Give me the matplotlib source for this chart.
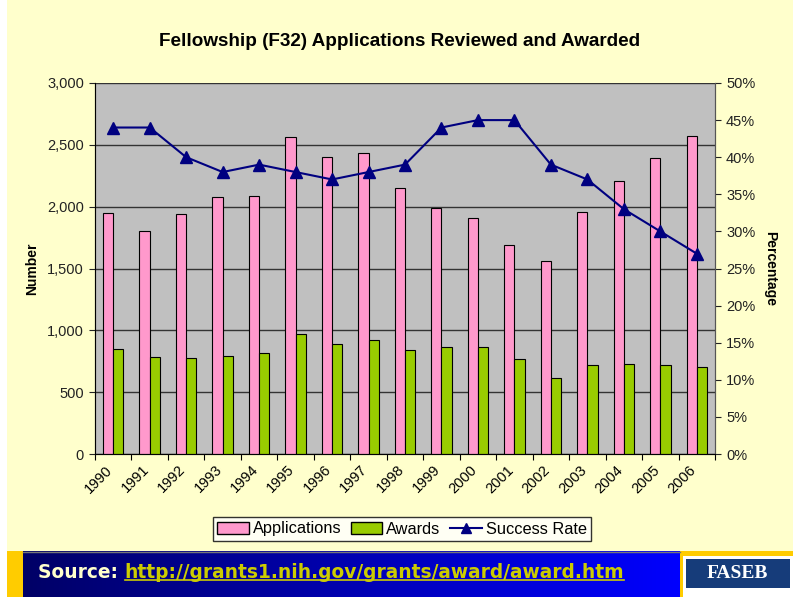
import numpy as np
import matplotlib.pyplot as plt
from matplotlib.lines import Line2D
from matplotlib.patches import Patch, Rectangle
from matplotlib.ticker import FuncFormatter, MultipleLocator
from matplotlib.colors import LinearSegmentedColormap

# Data
years = ['1990', '1991', '1992', '1993', '1994', '1995', '1996', '1997', '1998',
         '1999', '2000', '2001', '2002', '2003', '2004', '2005', '2006']
applications = [1950, 1800, 1940, 2080, 2090, 2560, 2400, 2430, 2150,
                1990, 1910, 1690, 1560, 1960, 2210, 2390, 2570]
awards = [850, 785, 775, 795, 820, 972, 890, 922, 843,
          868, 868, 770, 615, 722, 730, 722, 705]
success_rate = [44, 44, 40, 38, 39, 38, 37, 38, 39,
                44, 45, 45, 39, 37, 33, 30, 27]

BG = '#FFFFCC'
PINK = '#FF99CC'
GREEN = '#99CC00'
NAVY = '#000080'

W, H = 793, 597
fig = plt.figure(figsize=(W / 100, H / 100), dpi=100, facecolor=BG)
plt.rcParams['font.family'] = ['Liberation Sans', 'DejaVu Sans']

# white strip on the left edge of the slide
fig.patches.append(Rectangle((0, 0), 7 / W, 1, transform=fig.transFigure,
                             facecolor='white', edgecolor='none', zorder=0))

# Main chart
ax = fig.add_axes([95 / W, 143 / H, 620 / W, 371 / H])
ax.set_facecolor('#C0C0C0')
x = np.arange(len(years)) + 0.5
bw = 0.28
ax.bar(x - bw / 2, applications, bw, color=PINK, edgecolor='black', linewidth=0.8, zorder=3)
ax.bar(x + bw / 2, awards, bw, color=GREEN, edgecolor='black', linewidth=0.8, zorder=3)
ax.set_xlim(0, len(years))
ax.set_ylim(0, 3000)
ax.yaxis.set_major_locator(MultipleLocator(500))
ax.yaxis.set_major_formatter(FuncFormatter(lambda v, p: f'{int(v):,}'))
ax.grid(axis='y', color='#333333', linewidth=1, zorder=1)
ax.set_axisbelow(True)
ax.set_xticks(np.arange(len(years) + 1))
ax.set_xticklabels([])
ax.tick_params(axis='x', length=4, color='black', direction='out')
ax.tick_params(axis='y', length=4, labelsize=10.5, colors='#222222', pad=4)
for i, yr in enumerate(years):
    ax.text(x[i] - 0.22, -70, yr, rotation=45, ha='right', va='top',
            rotation_mode='anchor', fontsize=10.5, transform=ax.transData, clip_on=False)
ax.spines['top'].set_visible(False)
for s in ['left', 'right', 'bottom']:
    ax.spines[s].set_color('#555555')
ax.set_ylabel('Number', fontsize=10, fontweight='bold', labelpad=6)

ax2 = ax.twinx()
ax2.plot(x, success_rate, color=NAVY, linewidth=1.5, marker='^', markersize=8, zorder=5)
ax2.set_ylim(0, 50)
ax2.yaxis.set_major_locator(MultipleLocator(5))
ax2.yaxis.set_major_formatter(FuncFormatter(lambda v, p: f'{int(v)}%'))
ax2.tick_params(axis='y', length=4, labelsize=10.5, colors='#222222', pad=4)
ax2.spines['top'].set_visible(False)
ax2.spines['right'].set_color('#555555')
ax2.set_ylabel('Percentage', fontsize=10, fontweight='bold', rotation=270, labelpad=16)

fig.text(400 / W, 1 - 42 / H, 'Fellowship (F32) Applications Reviewed and Awarded',
         ha='center', va='center', fontsize=13.6, fontweight='bold')

handles = [Patch(facecolor=PINK, edgecolor='black', label='Applications'),
           Patch(facecolor=GREEN, edgecolor='black', label='Awards'),
           Line2D([], [], color=NAVY, marker='^', markersize=7, label='Success Rate')]
leg = fig.legend(handles=handles, loc='center', bbox_to_anchor=(402 / W, 1 - 529 / H),
                 ncol=3, frameon=True, fancybox=False, edgecolor='black', fontsize=11.8,
                 handlelength=1.9, handleheight=0.8, handletextpad=0.25, columnspacing=0.6,
                 borderpad=0.25, borderaxespad=0)
leg.get_frame().set_linewidth(1)

# Bottom banner
bax = fig.add_axes([0, 0, 1, 46 / H])
bax.set_xlim(0, W)
bax.set_ylim(0, 46)
bax.axis('off')
grad = np.linspace(0, 1, 256).reshape(1, -1)
cmap = LinearSegmentedColormap.from_list('banner', ['#000066', '#0000FF'])
bax.imshow(grad, cmap=cmap, extent=(23, 683, 0, 46), aspect='auto', zorder=1)
bax.add_patch(Rectangle((0, 0), 7, 46, facecolor='white', edgecolor='none', zorder=2))
bax.add_patch(Rectangle((7, 0), 16, 46, facecolor='#FFCC00', edgecolor='none', zorder=2))
bax.add_patch(Rectangle((680, 0), 113, 46, facecolor='#FFCC00', edgecolor='none', zorder=2))
bax.add_patch(Rectangle((683, 0), 110, 41, facecolor='white', edgecolor='none', zorder=3))
bax.add_patch(Rectangle((686, 9), 104, 29, facecolor='#163C7A', edgecolor='none', zorder=4))
bax.text(737, 23.5, 'FASEB', color='white', ha='center', va='center', fontsize=14,
         fontweight='bold', family='Liberation Serif', zorder=5)
bax.plot([23, 680], [45.5, 45.5], color='#777777', linewidth=1, zorder=3)
t1 = bax.text(38, 25, 'Source: ', color='#FFFFCC', ha='left', va='center', fontsize=13.4,
              fontweight='bold', family='DejaVu Sans', zorder=5)
fig.canvas.draw()
inv = bax.transData.inverted()
bb = t1.get_window_extent()
x_url = inv.transform((bb.x1, bb.y0))[0]
t2 = bax.text(x_url, 25, 'http://grants1.nih.gov/grants/award/award.htm', color='#CCCC00',
              ha='left', va='center', fontsize=13.4, fontweight='bold', family='DejaVu Sans',
              zorder=5)
fig.canvas.draw()
bb2 = t2.get_window_extent()
(ux0, uy), (ux1, _) = inv.transform([(bb2.x0, bb2.y0), (bb2.x1, bb2.y0)])
bax.plot([ux0, ux1], [uy + 1.5, uy + 1.5], color='#CCCC00', linewidth=1.2, zorder=5)

fig.savefig('out.png', dpi=100, facecolor=BG)
